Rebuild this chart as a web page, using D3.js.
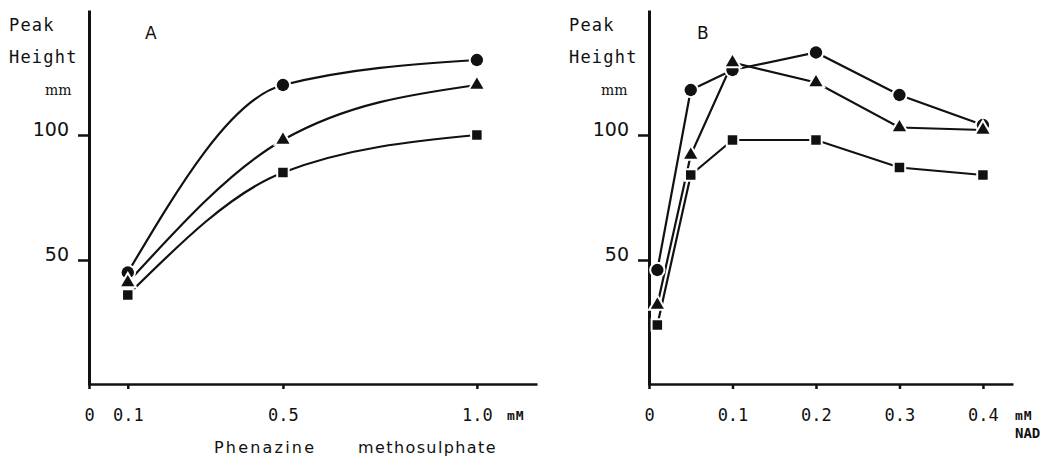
<!DOCTYPE html>
<html>
<head>
<meta charset="utf-8">
<script src="https://cdn.jsdelivr.net/npm/d3@7/dist/d3.min.js"></script>
<style>
  body { margin: 0; background: #fff; }
  svg text { font-family: "DejaVu Sans Mono", monospace; fill: #111; }
</style>
</head>
<body>
<div id="chart"></div>
<script>
// panel A: phenazine methosulphate (mM)
const xA = [0.1, 0.5, 1.0];
const circleA = [45, 120, 130];
const triangleA = [41, 98, 120];
const squareA = [36, 85, 100];

// panel B: NAD (mM)
const xB = [0.01, 0.05, 0.1, 0.2, 0.3, 0.4];
const circleB = [46, 118, 126, 133, 116, 104];
const triangleB = [32, 92, 129, 121, 103, 102];
const squareB = [24, 84, 98, 98, 87, 84];

const yTicks = [50, 100];
const xTicksA = [0, 0.1, 0.5, 1.0];
const xTickLabelsA = ["0", "0.1", "0.5", "1.0"];
const xTicksB = [0, 0.1, 0.2, 0.3, 0.4];
const xTickLabelsB = ["0", "0.1", "0.2", "0.3", "0.4"];

const W = 1053, H = 457;
const svg = d3.select("#chart").append("svg")
    .attr("width", W)
    .attr("height", H);

const y = d3.scaleLinear().domain([0, 150]).range([385, 10]);

function drawPanel(p) {
    const x = d3.scaleLinear().domain(p.xDomain).range(p.xRange);
    const g = svg.append("g");

    // y axis
    const yAxis = g.append("g")
        .attr("transform", `translate(${p.xRange[0]},0)`)
        .call(d3.axisLeft(y).tickValues(yTicks).tickSize(11).tickSizeOuter(0).tickPadding(9));
    yAxis.select(".domain").attr("stroke", "#111").attr("stroke-width", 3);
    yAxis.selectAll(".tick line").attr("stroke", "#111").attr("stroke-width", 2.5);
    yAxis.selectAll(".tick text")
        .style("font-family", "'DejaVu Sans', sans-serif")
        .attr("font-size", 19)
        .attr("dy", "0.05em");

    // x axis
    const xAxis = g.append("g")
        .attr("transform", `translate(0,${y(0) - 1})`)
        .call(d3.axisBottom(x).tickValues(p.xTicks).tickSize(5).tickSizeOuter(0).tickPadding(20)
            .tickFormat((d, i) => p.xLabels[i]));
    xAxis.select(".domain").attr("stroke", "#111").attr("stroke-width", 2.5);
    xAxis.selectAll(".tick line").attr("stroke", "#111").attr("stroke-width", 2.5);
    xAxis.selectAll(".tick text")
        .attr("font-size", 17)
        .style("font-family", "'DejaVu Sans Mono', monospace");

    // y label
    const yl = g.append("g").attr("font-size", 17).style("letter-spacing", "1.2px");
    yl.append("text").attr("x", p.labelX).attr("y", 31).text("Peak");
    yl.append("text").attr("x", p.labelX).attr("y", 63).text("Height");
    g.append("text").attr("x", p.labelX + p.mmDx).attr("y", 95)
        .attr("font-size", 14).style("font-family", "'DejaVu Serif', serif")
        .text("mm");

    // panel letter
    g.append("text").attr("x", p.letterX).attr("y", 39)
        .attr("font-size", 17).style("font-family", "'DejaVu Sans', sans-serif")
        .text(p.letter);

    // unit after last tick
    g.append("text").attr("x", p.unitX).attr("y", 420)
        .attr("font-size", 13).attr("font-weight", "bold")
        .style("letter-spacing", "1px")
        .text("mM");

    const line = d3.line()
        .x(d => x(d[0]))
        .y(d => y(d[1]))
        .curve(p.curve);

    p.series.forEach(s => {
        const pts = p.xs.map((v, i) => [v, s.values[i]]);
        g.append("path")
            .attr("d", line(pts))
            .attr("fill", "none")
            .attr("stroke", "#111")
            .attr("stroke-width", 2.2);
    });

    const symbols = { circle: d3.symbolCircle, triangle: d3.symbolTriangle, square: d3.symbolSquare };
    const sizes = { circle: 120, triangle: 75, square: 90 };
    p.series.forEach(s => {
        const sym = d3.symbol().type(symbols[s.shape]).size(sizes[s.shape]);
        g.append("g").selectAll("path")
            .data(p.xs.map((v, i) => [v, s.values[i]]))
            .join("path")
            .attr("transform", d => `translate(${x(d[0])},${y(d[1])})`)
            .attr("d", sym)
            .attr("fill", "#111")
            .attr("stroke", "#fff")
            .attr("stroke-width", 4)
            .attr("paint-order", "stroke");
    });
    return g;
}

drawPanel({
    xDomain: [0, 1.155], xRange: [89, 537],
    xs: xA, xTicks: xTicksA, xLabels: xTickLabelsA,
    labelX: 9, mmDx: 36, letter: "A", letterX: 145, unitX: 507,
    curve: d3.curveMonotoneX,
    series: [
        { shape: "circle", values: circleA },
        { shape: "triangle", values: triangleA },
        { shape: "square", values: squareA }
    ]
});

const gB = drawPanel({
    xDomain: [0, 0.436], xRange: [649, 1013],
    xs: xB, xTicks: xTicksB, xLabels: xTickLabelsB,
    labelX: 569, mmDx: 32, letter: "B", letterX: 697, unitX: 1015,
    curve: d3.curveLinear,
    series: [
        { shape: "circle", values: circleB },
        { shape: "triangle", values: triangleB },
        { shape: "square", values: squareB }
    ]
});

gB.append("text").attr("x", 1015).attr("y", 438)
    .attr("font-size", 14).attr("font-weight", "bold")
    .text("NAD");

// x-axis title of panel A
svg.append("text")
    .attr("x", 214).attr("y", 453)
    .attr("font-size", 16)
    .style("letter-spacing", "2.2px")
    .style("font-family", "'DejaVu Sans', sans-serif")
    .text("Phenazine");
svg.append("text")
    .attr("x", 358).attr("y", 453)
    .attr("font-size", 16)
    .style("letter-spacing", "1.4px")
    .style("font-family", "'DejaVu Sans', sans-serif")
    .text("methosulphate");
</script>
</body>
</html>
